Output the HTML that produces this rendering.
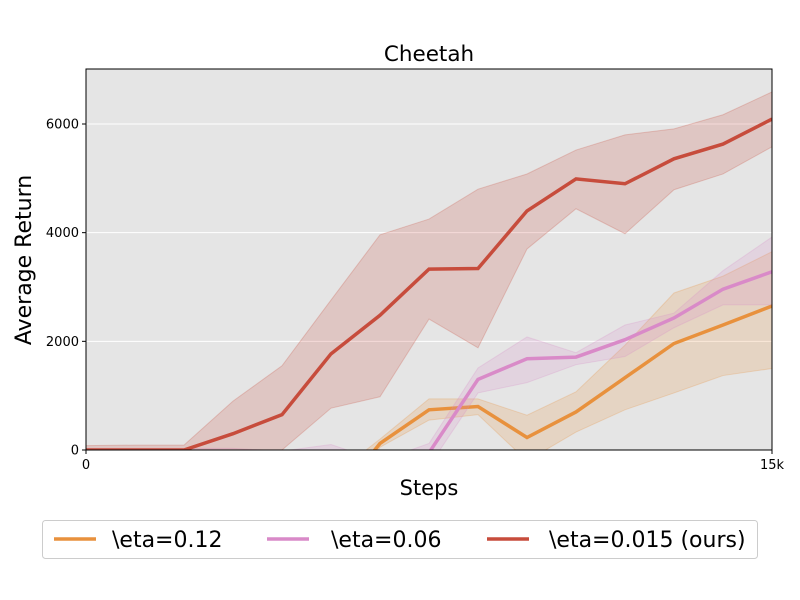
<!DOCTYPE html>
<html><head><meta charset="utf-8"><style>
body{margin:0;background:#fff;}
svg{display:block;font-family:"DejaVu Sans","Liberation Sans",sans-serif;}
</style></head><body>
<svg id="chart" width="800" height="600">
<defs><clipPath id="clip"><rect x="86" y="69" width="686" height="381"/></clipPath></defs>
<rect x="86" y="69" width="686" height="381" fill="#e5e5e5"/>
<g id="grid"></g>
<g id="series" clip-path="url(#clip)"></g>
<rect x="86" y="69" width="686" height="381" fill="none" stroke="#000" stroke-width="1"/>
<g id="ticks"></g>
<text x="429" y="61" font-size="21.5" text-anchor="middle">Cheetah</text>
<text x="429" y="495" font-size="21" text-anchor="middle">Steps</text>
<text transform="translate(31,260) rotate(-90)" font-size="22" text-anchor="middle">Average Return</text>
<g>
<rect x="42.5" y="520.5" width="715" height="38" rx="3" fill="#fff" stroke="#ccc"/>
<line x1="54" y1="539" x2="96" y2="539" stroke="#e8913d" stroke-width="3.5"/>
<text x="112" y="547" font-size="22">\eta=0.12</text>
<line x1="267" y1="539" x2="309" y2="539" stroke="#d98ac8" stroke-width="3.5"/>
<text x="331" y="547" font-size="22">\eta=0.06</text>
<line x1="487" y1="539" x2="529" y2="539" stroke="#c74c3c" stroke-width="3.5"/>
<text x="549" y="547" font-size="22">\eta=0.015 (ours)</text>
</g>
</svg>
<script>
const steps=[0,1,2,3,4,5,6,7,8,9,10,11,12,13,14];
const redMean=[0,0,0,300,650,1770,2480,3330,3340,4400,4990,4900,5360,5630,6090];
const redUpper=[80,90,90,900,1550,2760,3960,4250,4800,5080,5520,5800,5910,6170,6590];
const redLower=[-100,-100,-100,-300,0,770,980,2410,1880,3700,4440,3980,4790,5080,5580];
const orangeMean=[-1500,-1500,-1500,-1500,-1500,-1000,120,740,800,230,700,1330,1960,2300,2650];
const orangeUpper=[-800,-800,-800,-800,-800,-500,200,940,940,640,1070,1930,2890,3200,3650];
const orangeLower=[-2200,-2200,-2200,-2200,-2200,-1500,50,550,650,-200,330,740,1050,1370,1500];
const pinkMean=[-500,-500,-500,-500,-600,-500,-800,-50,1300,1680,1710,2030,2430,2960,3280];
const pinkUpper=[30,30,30,30,-20,100,-200,120,1510,2080,1790,2300,2520,3300,3920];
const pinkLower=[-1000,-1000,-1000,-1000,-1200,-1000,-1400,-300,1050,1240,1570,1720,2250,2670,2670];
const yTicks=[0,2000,4000,6000];
const xTickVals=[0,14];
const xTickLabels=["0","15k"];
const X=i=>86+i*686/14;
const Y=v=>450-v*(381/7012);
const NS="http://www.w3.org/2000/svg";
function mk(t,a,p){const e=document.createElementNS(NS,t);for(const k in a)e.setAttribute(k,a[k]);p.appendChild(e);return e;}
const grid=document.getElementById('grid'),ticks=document.getElementById('ticks'),ser=document.getElementById('series');
yTicks.forEach(v=>{
 const g=mk('line',{x1:86,x2:772,y1:Y(v),y2:Y(v),stroke:'#fff','stroke-width':1},grid);
 
 
 const t=mk('line',{x1:82,x2:86,y1:Y(v),y2:Y(v),stroke:'#000'},ticks);
 
 
 const l=mk('text',{x:79,y:Y(v)+4.5,'font-size':13,'text-anchor':'end'},ticks);l.textContent=v;
 
 
});
xTickVals.forEach((v,i)=>{
 const t=mk('line',{x1:X(v),x2:X(v),y1:450,y2:454,stroke:'#000'},ticks);
 
 
 const l=mk('text',{x:X(v),y:469,'font-size':13,'text-anchor':'middle'},ticks);l.textContent=xTickLabels[i];
 
 
});
function draw(name,mean,up,lo,color){
 let d='M'+steps.map(i=>X(i)+','+Y(up[i])).join('L')+'L'+steps.slice().reverse().map(i=>X(i)+','+Y(lo[i])).join('L')+'Z';
 const b=mk('path',{d:d,fill:color,'fill-opacity':0.2,stroke:color,'stroke-opacity':0.25},ser);
 
 
 const l=mk('polyline',{points:steps.map(i=>X(i)+','+Y(mean[i])).join(' '),fill:'none',stroke:color,'stroke-width':3.5},ser);
 
 
}
draw('eta-0.12',orangeMean,orangeUpper,orangeLower,'#e8913d');
draw('eta-0.06',pinkMean,pinkUpper,pinkLower,'#d98ac8');
draw('eta-0.015',redMean,redUpper,redLower,'#c74c3c');
</script>
</body></html>
